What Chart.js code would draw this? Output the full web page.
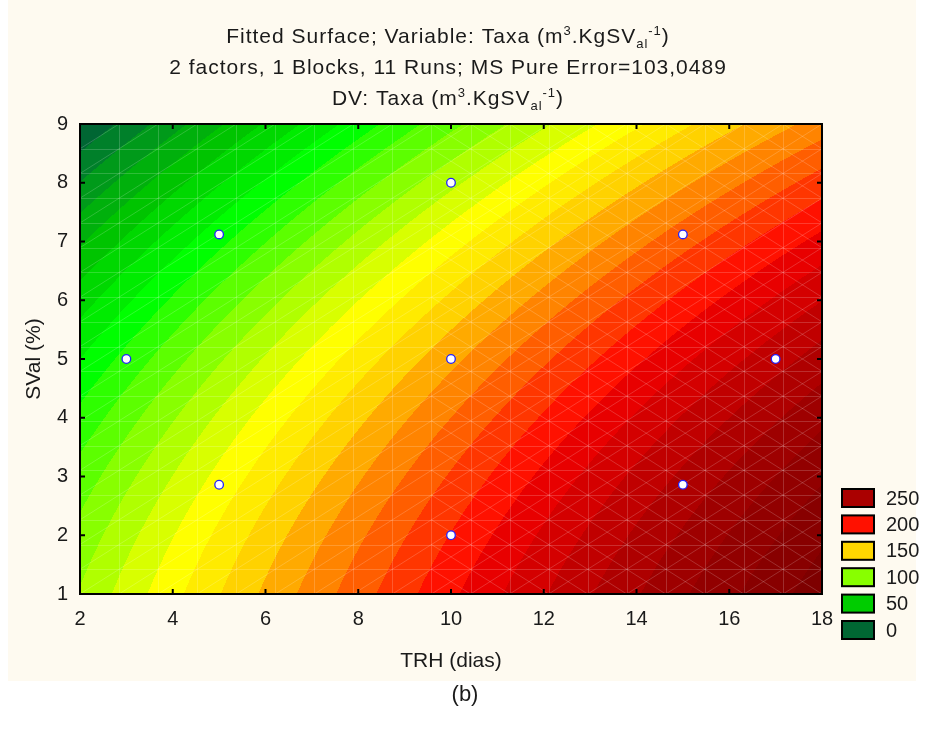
<!DOCTYPE html>
<html>
<head>
<meta charset="utf-8">
<script src="https://cdn.jsdelivr.net/npm/chart.js@4.4.1/dist/chart.umd.min.js"></script>
<style>
  html, body { margin: 0; padding: 0; background: #ffffff; }
  #wrap { width: 925px; height: 733px; }
  canvas { display: block; }
</style>
</head>
<body>
<div id="wrap"><canvas id="chart" width="925" height="733"></canvas></div>
<script>
// Experimental runs: TRH (days) and SVal (%)
const trhRuns  = [3, 5, 5, 10, 10, 10, 15, 15, 17];
const svalRuns = [5, 7.12, 2.86, 8, 5, 2, 7.12, 2.86, 5];

// Fitted second-order surface:
// Taxa = b0 + b1*TRH + b11*TRH^2 + b2*SVal + b22*SVal^2 + b12*TRH*SVal
const surfaceCoefficients = [89.25, 13.97, -0.153, -4.77, -0.909, 0];

// Filled contour levels and the colour of each band (first entry = below the first level)
const contourLevels = [0, 10, 20, 30, 40, 50, 60, 70, 80, 90, 100, 110, 120, 130, 140,
                       150, 160, 170, 180, 190, 200, 210, 220, 230, 240, 250, 260, 270, 280, 290];
const bandColors = ['#005C3A', '#006633', '#00802A', '#009A1A', '#00B00C', '#00C400',
                    '#00D800', '#00EC00', '#00FF00', '#2EFF00', '#5CFF00', '#88FF00',
                    '#B0FF00', '#D8FF00', '#FFFF00', '#FFEB00', '#FFD200', '#FFAA00',
                    '#FF8400', '#FF5E00', '#FF3600', '#FF1100', '#E80000', '#D40000',
                    '#C00000', '#AE0000', '#9E0000', '#920000', '#880000', '#7E0000', '#740000'];

// Legend entries
const legendValues = [250, 200, 150, 100, 50, 0];
const legendColors = ['#AA0000', '#FF1100', '#FFD700', '#88FF00', '#00CC00', '#006633'];

// Axis ticks
const xTicks = [2, 4, 6, 8, 10, 12, 14, 16, 18];
const yTicks = [1, 2, 3, 4, 5, 6, 7, 8, 9];

// Surface mesh divisions along each axis
const meshDivisions = 19;

const FONT = '"Liberation Sans", Arial, sans-serif';
const PANEL = '#FEFAF0';

function surface(x, y) {
  const [b0, b1, b11, b2, b22, b12] = surfaceCoefficients;
  return b0 + b1 * x + b11 * x * x + b2 * y + b22 * y * y + b12 * x * y;
}

function bandIndex(z) {
  let k = 0;
  while (k < contourLevels.length && z >= contourLevels[k]) k++;
  return k;
}

function hexToRgb(h) {
  return [parseInt(h.slice(1, 3), 16), parseInt(h.slice(3, 5), 16), parseInt(h.slice(5, 7), 16)];
}

// Text with superscript / subscript pieces, centred on cx
function drawRich(ctx, segs, cx, baseY, size, spacing) {
  ctx.letterSpacing = spacing + 'px';
  let total = 0;
  const parts = segs.map(s => {
    const fs = s.k ? Math.round(size * 0.62) : size;
    ctx.font = fs + 'px ' + FONT;
    const w = ctx.measureText(s.t).width;
    total += w;
    return { t: s.t, fs, w, dy: s.k === 'sup' ? -size * 0.40 : (s.k === 'sub' ? size * 0.22 : 0) };
  });
  let x = cx - total / 2;
  ctx.textAlign = 'left';
  ctx.textBaseline = 'alphabetic';
  parts.forEach(p => {
    ctx.font = p.fs + 'px ' + FONT;
    ctx.fillText(p.t, x, baseY + p.dy);
    x += p.w;
  });
  ctx.letterSpacing = '0px';
}

const titleLines = [
  [{ t: 'Fitted Surface; Variable: Taxa (m' }, { t: '3', k: 'sup' }, { t: '.KgSV' }, { t: 'al', k: 'sub' }, { t: '-1', k: 'sup' }, { t: ')' }],
  [{ t: '2 factors, 1 Blocks, 11 Runs; MS Pure Error=103,0489' }],
  [{ t: 'DV: Taxa (m' }, { t: '3', k: 'sup' }, { t: '.KgSV' }, { t: 'al', k: 'sub' }, { t: '-1', k: 'sup' }, { t: ')' }]
];

const panelPlugin = {
  id: 'panel',
  beforeDraw(chart) {
    const ctx = chart.ctx;
    ctx.save();
    ctx.fillStyle = '#ffffff';
    ctx.fillRect(0, 0, chart.width, chart.height);
    ctx.fillStyle = PANEL;
    ctx.fillRect(8, 0, 908, 681);
    ctx.restore();
  }
};

const surfacePlugin = {
  id: 'surface',
  beforeDatasetsDraw(chart) {
    const { ctx, chartArea } = chart;
    const xs = chart.scales.x, ys = chart.scales.y;
    const left = Math.round(chartArea.left), top = Math.round(chartArea.top);
    const w = Math.round(chartArea.right) - left, h = Math.round(chartArea.bottom) - top;
    const off = document.createElement('canvas');
    off.width = w; off.height = h;
    const octx = off.getContext('2d');
    const img = octx.createImageData(w, h);
    const rgb = bandColors.map(hexToRgb);
    const xv = new Float64Array(w), yv = new Float64Array(h);
    for (let i = 0; i < w; i++) xv[i] = xs.getValueForPixel(left + i + 0.5);
    for (let j = 0; j < h; j++) yv[j] = ys.getValueForPixel(top + j + 0.5);
    for (let j = 0; j < h; j++) {
      for (let i = 0; i < w; i++) {
        const c = rgb[bandIndex(surface(xv[i], yv[j]))];
        const o = (j * w + i) * 4;
        img.data[o] = c[0]; img.data[o + 1] = c[1]; img.data[o + 2] = c[2]; img.data[o + 3] = 255;
      }
    }
    octx.putImageData(img, 0, 0);
    ctx.save();
    ctx.drawImage(off, left, top);

    // light surface mesh
    ctx.beginPath();
    ctx.rect(chartArea.left, chartArea.top, chartArea.right - chartArea.left, chartArea.bottom - chartArea.top);
    ctx.clip();
    ctx.strokeStyle = 'rgba(255,255,255,0.18)';
    ctx.lineWidth = 1;
    const x0 = xs.min, x1 = xs.max, y0 = ys.min, y1 = ys.max;
    const gx = k => x0 + (x1 - x0) * k / meshDivisions;
    const gy = k => y0 + (y1 - y0) * k / meshDivisions;
    ctx.beginPath();
    for (let k = 1; k < meshDivisions; k++) {
      const px = Math.round(xs.getPixelForValue(gx(k))) + 0.5;
      ctx.moveTo(px, chartArea.top); ctx.lineTo(px, chartArea.bottom);
      const py = Math.round(ys.getPixelForValue(gy(k))) + 0.5;
      ctx.moveTo(chartArea.left, py); ctx.lineTo(chartArea.right, py);
    }
    for (let a = 0; a < meshDivisions; a++) {
      for (let b = 0; b < meshDivisions; b++) {
        const pxa = xs.getPixelForValue(gx(a)), pxb = xs.getPixelForValue(gx(a + 1));
        const pya = ys.getPixelForValue(gy(b)), pyb = ys.getPixelForValue(gy(b + 1));
        ctx.moveTo(pxa, pya); ctx.lineTo(pxb, pyb);
        if ((gx(a) + gx(a + 1)) / 2 > 9.5) { ctx.moveTo(pxa, pyb); ctx.lineTo(pxb, pya); }
      }
    }
    ctx.stroke();
    ctx.restore();
  },
  afterDatasetsDraw(chart) {
    const { ctx, chartArea } = chart;
    const xs = chart.scales.x, ys = chart.scales.y;
    ctx.save();
    ctx.strokeStyle = '#000000';
    ctx.lineWidth = 2;
    ctx.strokeRect(chartArea.left, chartArea.top, chartArea.right - chartArea.left, chartArea.bottom - chartArea.top);
    ctx.beginPath();
    const tl = 5;
    xs.ticks.forEach(t => {
      const px = xs.getPixelForValue(t.value);
      ctx.moveTo(px, chartArea.bottom); ctx.lineTo(px, chartArea.bottom - tl);
      ctx.moveTo(px, chartArea.top); ctx.lineTo(px, chartArea.top + tl);
    });
    ys.ticks.forEach(t => {
      const py = ys.getPixelForValue(t.value);
      ctx.moveTo(chartArea.left, py); ctx.lineTo(chartArea.left + tl, py);
      ctx.moveTo(chartArea.right, py); ctx.lineTo(chartArea.right - tl, py);
    });
    ctx.stroke();
    ctx.restore();
  }
};

const decorPlugin = {
  id: 'decor',
  afterDraw(chart) {
    const ctx = chart.ctx;
    ctx.save();
    ctx.fillStyle = '#1a1a1a';
    const baselines = [43, 74, 105];
    titleLines.forEach((segs, i) => drawRich(ctx, segs, 448, baselines[i], 21, 1));

    // legend
    const bx = 842, bw = 32, bh = 18, pitch = 26.4, by0 = 489;
    legendValues.forEach((v, i) => {
      const y = by0 + i * pitch;
      ctx.fillStyle = legendColors[i];
      ctx.fillRect(bx, y, bw, bh);
      ctx.strokeStyle = '#000000';
      ctx.lineWidth = 2;
      ctx.strokeRect(bx, y, bw, bh);
      ctx.fillStyle = '#1a1a1a';
      ctx.font = '20px ' + FONT;
      ctx.textAlign = 'left';
      ctx.textBaseline = 'middle';
      ctx.fillText(String(v), 886, y + bh / 2 + 1);
    });

    ctx.font = '22px ' + FONT;
    ctx.textAlign = 'center';
    ctx.textBaseline = 'middle';
    ctx.fillText('(b)', 465, 695);
    ctx.restore();
  }
};

const points = trhRuns.map((x, i) => ({ x, y: svalRuns[i] }));

new Chart(document.getElementById('chart').getContext('2d'), {
  type: 'scatter',
  data: {
    datasets: [{
      data: points,
      pointRadius: 4.3,
      pointHoverRadius: 4.3,
      pointBackgroundColor: '#ffffff',
      pointBorderColor: '#2222ff',
      pointBorderWidth: 1.3
    }]
  },
  options: {
    responsive: false,
    animation: false,
    devicePixelRatio: 1,
    events: [],
    layout: { padding: { left: 0, top: 124, right: 103, bottom: 53 } },
    plugins: { legend: { display: false }, tooltip: { enabled: false }, title: { display: false } },
    scales: {
      x: {
        type: 'linear', min: 2, max: 18,
        afterBuildTicks: s => { s.ticks = xTicks.map(v => ({ value: v })); },
        afterFit: s => { s.height = 86; s.paddingLeft = 0; s.paddingRight = 0; },
        grid: { display: false, drawTicks: false },
        border: { display: false },
        ticks: { color: '#1a1a1a', font: { family: FONT, size: 20 }, padding: 13, maxRotation: 0, callback: v => String(v) },
        title: { display: true, text: 'TRH (dias)', color: '#1a1a1a', font: { family: FONT, size: 21 }, padding: { top: 0, bottom: 6 } }
      },
      y: {
        type: 'linear', min: 1, max: 9,
        afterBuildTicks: s => { s.ticks = yTicks.map(v => ({ value: v })); },
        afterFit: s => { s.width = 80; s.paddingTop = 0; s.paddingBottom = 0; },
        grid: { display: false, drawTicks: false },
        border: { display: false },
        ticks: { color: '#1a1a1a', font: { family: FONT, size: 20 }, padding: 12, callback: v => String(v) },
        title: { display: true, text: 'SVal (%)', color: '#1a1a1a', font: { family: FONT, size: 21 }, padding: { top: 22, bottom: 0 } }
      }
    }
  },
  plugins: [panelPlugin, surfacePlugin, decorPlugin]
});
</script>
</body>
</html>
